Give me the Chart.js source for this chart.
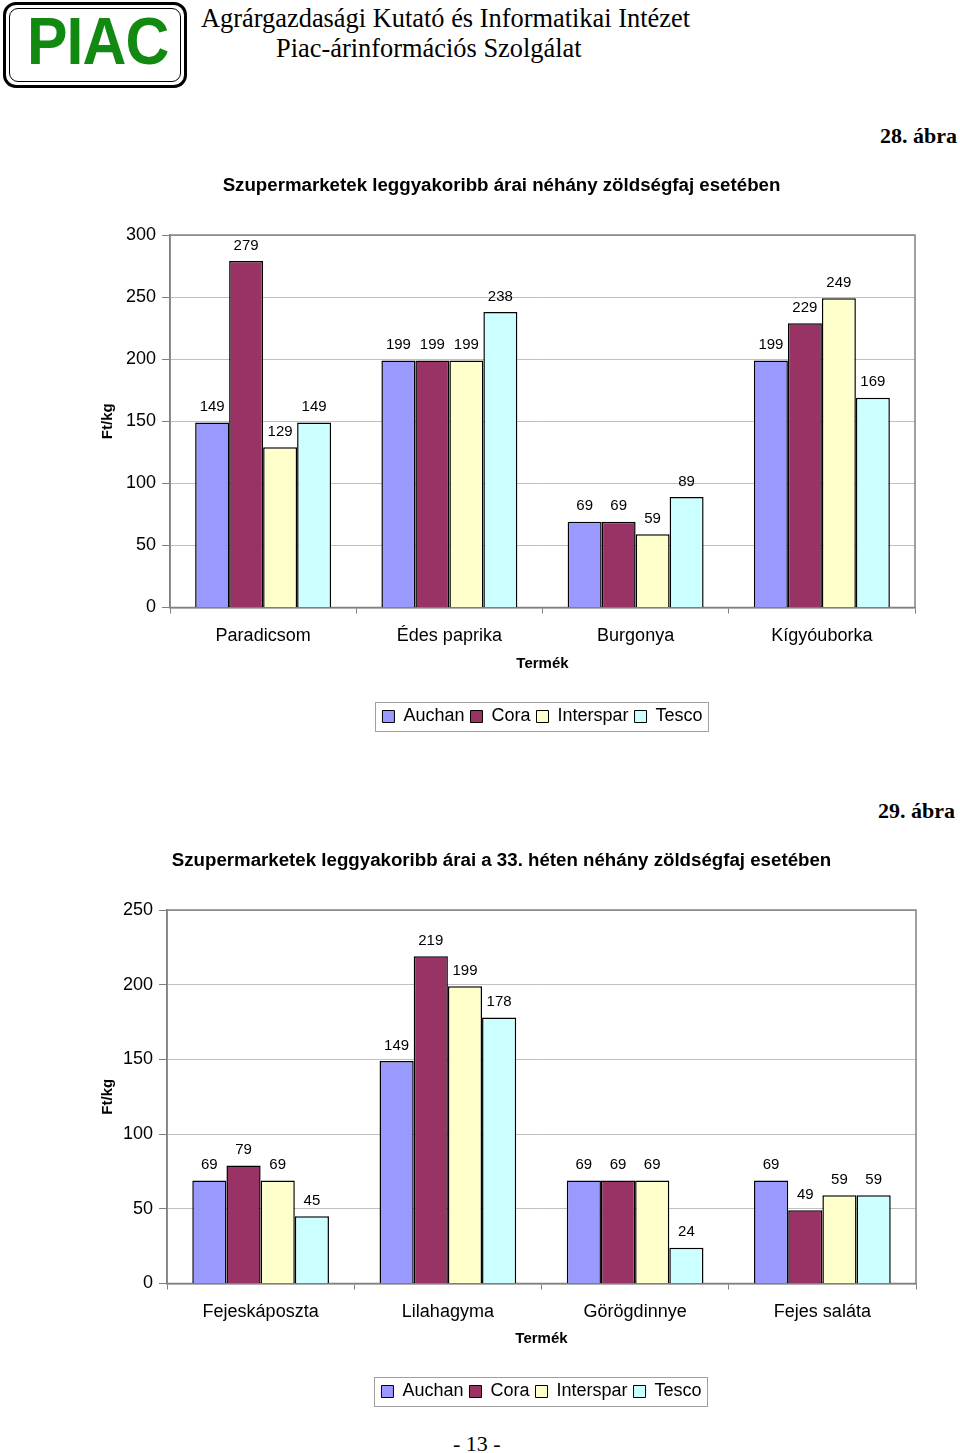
<!DOCTYPE html>
<html>
<head>
<meta charset="utf-8">
<script src="https://cdn.jsdelivr.net/npm/chart.js@4.4.1/dist/chart.umd.min.js"></script>
<style>
  html, body { margin: 0; padding: 0; background: #fff; }
  body { width: 960px; height: 1453px; position: relative; overflow: hidden; }
  .serif { font-family: "Liberation Serif", "Times New Roman", serif; color: #000; position: absolute; white-space: nowrap; }
  .logo-outer { position: absolute; left: 3px; top: 2px; width: 178px; height: 80px; border: 3px solid #000; border-radius: 13px; }
  .logo-inner { position: absolute; left: 3px; top: 3px; right: 3px; bottom: 3px; border: 1.5px solid #000; border-radius: 9px; }
  .logo-text { position: absolute; left: 21px; top: 0px; font-family: "Liberation Sans", Arial, sans-serif; font-weight: bold; font-size: 66px; line-height: 72px; color: #128a12; transform: scaleX(0.92); transform-origin: left center; letter-spacing: -1px; }
  .chartbox { position: absolute; left: 0; width: 960px; height: 585px; }
</style>
</head>
<body>
<div class="logo-outer"><div class="logo-inner"></div><div class="logo-text">PIAC</div></div>
<div class="serif" style="left:201px; top:3px; font-size:26.4px; line-height:30px;">Agrárgazdasági Kutató és Informatikai Intézet</div>
<div class="serif" style="left:276px; top:33px; font-size:26.4px; line-height:30px;">Piac-árinformációs Szolgálat</div>
<div class="serif" style="right:3px; top:122px; font-size:22px; line-height:28px; font-weight:bold;">28. ábra</div>
<div class="serif" style="right:5px; top:797px; font-size:22px; line-height:28px; font-weight:bold;">29. ábra</div>
<div class="serif" style="left:453px; top:1430px; font-size:22px; line-height:28px;">- 13 -</div>

<div class="chartbox" style="top:160px;"><canvas id="c1" width="960" height="585"></canvas></div>
<div class="chartbox" style="top:835px;"><canvas id="c2" width="960" height="585"></canvas></div>

<script>
// ---- Data ----
const seriesNames = ['Auchan', 'Cora', 'Interspar', 'Tesco'];
const seriesColors = ['#9999FF', '#993366', '#FFFFCC', '#CCFFFF'];

const title1 = 'Szupermarketek leggyakoribb árai néhány zöldségfaj esetében';
const categories1 = ['Paradicsom', 'Édes paprika', 'Burgonya', 'Kígyóuborka'];
const auchan1 = [149, 199, 69, 199];
const cora1 = [279, 199, 69, 229];
const interspar1 = [129, 199, 59, 249];
const tesco1 = [149, 238, 89, 169];
const yTicks1 = { min: 0, max: 300, step: 50 };

const title2 = 'Szupermarketek leggyakoribb árai a 33. héten néhány zöldségfaj esetében';
const categories2 = ['Fejeskáposzta', 'Lilahagyma', 'Görögdinnye', 'Fejes saláta'];
const auchan2 = [69, 149, 69, 69];
const cora2 = [79, 219, 69, 49];
const interspar2 = [69, 199, 69, 59];
const tesco2 = [45, 178, 24, 59];
const yTicks2 = { min: 0, max: 250, step: 50 };

const xAxisTitle = 'Termék';
const yAxisTitle = 'Ft/kg';

// ---- Plugins ----
const FONT = '"Liberation Sans", Arial, Helvetica, sans-serif';

const valueLabels = {
  id: 'valueLabels',
  afterDatasetsDraw(chart) {
    const ctx = chart.ctx;
    ctx.save();
    ctx.font = '15px ' + FONT;
    ctx.fillStyle = '#000';
    ctx.textAlign = 'center';
    ctx.textBaseline = 'middle';
    chart.data.datasets.forEach((ds, i) => {
      const meta = chart.getDatasetMeta(i);
      meta.data.forEach((bar, j) => {
        ctx.fillText(String(ds.data[j]), bar.x, bar.y - 15.5);
      });
    });
    ctx.restore();
  }
};

const plotBorder = {
  id: 'plotBorder',
  beforeDatasetsDraw(chart) {
    const a = chart.chartArea;
    const ctx = chart.ctx;
    ctx.save();
    ctx.strokeStyle = '#808080';
    ctx.lineWidth = 1.5;
    ctx.strokeRect(a.left, a.top, a.right - a.left, a.bottom - a.top);
    ctx.restore();
  }
};

const legendBorder = {
  id: 'legendBorder',
  afterDraw(chart) {
    const lg = chart.legend;
    if (!lg || !lg.legendHitBoxes || !lg.legendHitBoxes.length) return;
    let l = Infinity, r = -Infinity, t = Infinity, b = -Infinity;
    lg.legendHitBoxes.forEach(h => {
      l = Math.min(l, h.left); r = Math.max(r, h.left + h.width);
      t = Math.min(t, h.top); b = Math.max(b, h.top + h.height);
    });
    const ctx = chart.ctx;
    ctx.save();
    ctx.strokeStyle = '#a0a0a0';
    ctx.lineWidth = 1;
    ctx.strokeRect(Math.round(l - 7) + 0.5, Math.round(t - 6) + 0.5, Math.round(r - l + 13), Math.round(b - t + 11));
    ctx.restore();
  }
};

function makeChart(id, title, categories, series, yt, pad) {
  const datasets = series.map((d, i) => ({
    label: seriesNames[i],
    data: d,
    backgroundColor: seriesColors[i],
    borderColor: '#000',
    borderWidth: 1.5,
    categoryPercentage: 0.73,
    barPercentage: 1.0
  }));
  return new Chart(document.getElementById(id), {
    type: 'bar',
    data: { labels: categories, datasets },
    plugins: [plotBorder, valueLabels, legendBorder],
    options: {
      responsive: false,
      animation: false,
      devicePixelRatio: 1,
      layout: { padding: { left: pad.left, right: pad.right, top: 0, bottom: 9.5 } },
      plugins: {
        tooltip: { enabled: false },
        title: {
          display: true,
          text: title,
          color: '#000',
          font: { family: FONT, size: 18.7, weight: 'bold' },
          padding: { top: 15, bottom: 37.6 }
        },
        legend: {
          display: true,
          position: 'bottom',
          fullSize: false,
          labels: {
            color: '#000',
            font: { family: FONT, size: 18 },
            boxWidth: 12,
            boxHeight: 12,
            padding: 6,
            generateLabels(chart) {
              return Chart.defaults.plugins.legend.labels.generateLabels(chart).map(l => Object.assign(l, { lineWidth: 1 }));
            }
          }
        }
      },
      scales: {
        x: {
          offset: true,
          grid: { display: true, drawOnChartArea: false, drawTicks: true, tickLength: 6, color: '#808080', offset: true },
          border: { display: true, color: '#808080', width: 1.5 },
          ticks: { color: '#000', font: { family: FONT, size: 18 }, padding: 12, maxRotation: 0 },
          title: { display: true, text: xAxisTitle, color: '#000', font: { family: FONT, size: 15, weight: 'bold' }, padding: { top: 9, bottom: 29 } },
          afterFit(scale) { scale.height = pad.xHeight; }
        },
        y: {
          min: yt.min,
          max: yt.max,
          grid: { color: '#c0c0c0', tickLength: 8, tickColor: '#808080', lineWidth: 1 },
          border: { display: true, color: '#808080', width: 1.5 },
          ticks: { stepSize: yt.step, color: '#000', font: { family: FONT, size: 18 }, padding: 6 },
          title: { display: true, text: yAxisTitle, color: '#000', font: { family: FONT, size: 15, weight: 'bold' }, padding: { top: pad.ytitle, bottom: 0 } },
          afterFit(scale) { scale.width = pad.yWidth; }
        }
      }
    }
  });
}

makeChart('c1', title1, categories1, [auchan1, cora1, interspar1, tesco1], yTicks1,
  { left: 88, right: 45, yWidth: 82, ytitle: 11, xHeight: 94 });
makeChart('c2', title2, categories2, [auchan2, cora2, interspar2, tesco2], yTicks2,
  { left: 87, right: 44, yWidth: 80, ytitle: 12, xHeight: 93 });
</script>
</body>
</html>
